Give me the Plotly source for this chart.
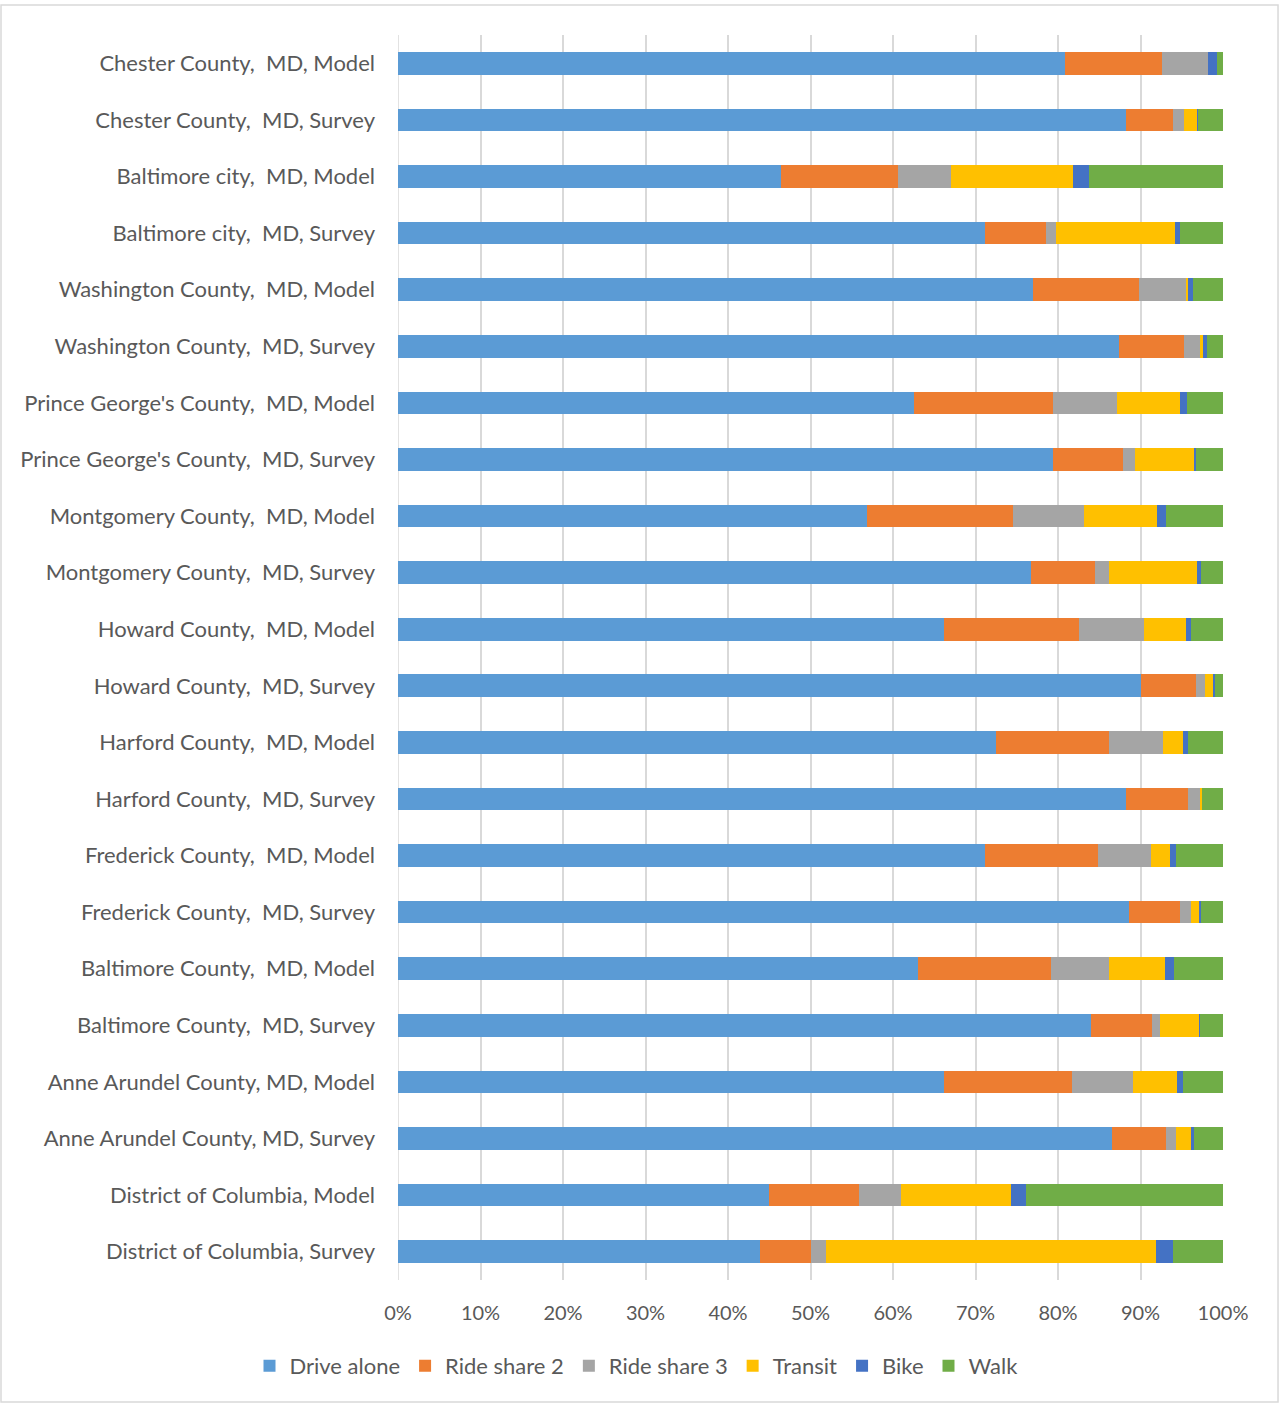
import plotly.graph_objects as go

# Commute mode shares (%) by jurisdiction, model vs. survey, listed top to bottom
categories = [
    "Chester County,\u00a0 MD, Model",
    "Chester County,\u00a0 MD, Survey",
    "Baltimore city,\u00a0 MD, Model",
    "Baltimore city,\u00a0 MD, Survey",
    "Washington County,\u00a0 MD, Model",
    "Washington County,\u00a0 MD, Survey",
    "Prince George's County,\u00a0 MD, Model",
    "Prince George's County,\u00a0 MD, Survey",
    "Montgomery County,\u00a0 MD, Model",
    "Montgomery County,\u00a0 MD, Survey",
    "Howard County,\u00a0 MD, Model",
    "Howard County,\u00a0 MD, Survey",
    "Harford County,\u00a0 MD, Model",
    "Harford County,\u00a0 MD, Survey",
    "Frederick County,\u00a0 MD, Model",
    "Frederick County,\u00a0 MD, Survey",
    "Baltimore County,\u00a0 MD, Model",
    "Baltimore County,\u00a0 MD, Survey",
    "Anne Arundel County, MD, Model",
    "Anne Arundel County, MD, Survey",
    "District of Columbia, Model",
    "District of Columbia, Survey",
]

drive_alone = [80.9, 88.2, 46.4, 71.1, 77.0, 87.4, 62.5, 79.4, 56.8, 76.7, 66.2,
               90.1, 72.5, 88.3, 71.2, 88.6, 63.0, 84.0, 66.2, 86.5, 45.0, 43.9]
ride_share_2 = [11.7, 5.7, 14.2, 7.5, 12.8, 7.9, 16.9, 8.5, 17.8, 7.8, 16.3,
                6.6, 13.7, 7.5, 13.6, 6.2, 16.1, 7.4, 15.5, 6.6, 10.9, 6.1]
ride_share_3 = [5.6, 1.4, 6.4, 1.2, 5.8, 1.9, 7.8, 1.4, 8.5, 1.7, 7.9,
                1.1, 6.5, 1.5, 6.5, 1.3, 7.1, 1.0, 7.4, 1.2, 5.1, 1.9]
transit = [0.0, 1.6, 14.8, 14.4, 0.1, 0.4, 7.6, 7.2, 8.9, 10.6, 5.1,
           1.0, 2.5, 0.2, 2.3, 1.0, 6.8, 4.7, 5.3, 1.8, 13.3, 40.0]
bike = [1.1, 0.1, 1.9, 0.6, 0.7, 0.4, 0.8, 0.2, 1.1, 0.5, 0.6,
        0.2, 0.6, 0.0, 0.7, 0.2, 1.0, 0.1, 0.7, 0.4, 1.8, 2.0]
walk = [0.7, 3.0, 16.3, 5.2, 3.6, 2.0, 4.4, 3.3, 6.9, 2.7, 3.9,
        1.0, 4.2, 2.5, 5.7, 2.7, 6.0, 2.8, 4.9, 3.5, 23.9, 6.1]

series = [
    ("Drive alone", drive_alone, "#5B9BD5"),
    ("Ride share 2", ride_share_2, "#ED7D31"),
    ("Ride share 3", ride_share_3, "#A5A5A5"),
    ("Transit", transit, "#FFC000"),
    ("Bike", bike, "#4472C4"),
    ("Walk", walk, "#70AD47"),
]

x_ticks = [0, 10, 20, 30, 40, 50, 60, 70, 80, 90, 100]

FONT = "Lato, 'Open Sans', sans-serif"
TEXT = "#595959"

fig = go.Figure()
for name, vals, color in series:
    fig.add_trace(go.Bar(
        name=name, y=categories, x=vals, orientation="h",
        marker=dict(color=color, line=dict(width=0)),
    ))

fig.update_layout(
    barmode="stack",
    barnorm="percent",
    bargap=0.6,
    width=1280, height=1404,
    margin=dict(l=398, r=57, t=35, b=124),
    paper_bgcolor="white", plot_bgcolor="white",
    font=dict(family=FONT, size=22, color=TEXT),
    showlegend=True,
    legend=dict(
        orientation="h", x=-0.18, xanchor="left", y=-0.069, yanchor="middle",
        font=dict(size=22, color=TEXT), traceorder="normal",
        itemwidth=30, bgcolor="rgba(0,0,0,0)",
    ),
    xaxis=dict(
        range=[0, 100], tickvals=x_ticks, ticktext=[f"{v}%" for v in x_ticks],
        tickfont=dict(size=20),
        showgrid=True, gridcolor="#D9D9D9", gridwidth=1.5,
        zeroline=False, showline=False, ticks="", ticklabelstandoff=19,
        fixedrange=True,
    ),
    yaxis=dict(
        autorange="reversed", showgrid=False, zeroline=False, showline=False,
        ticks="", ticklabelstandoff=22, tickfont=dict(size=22),
    ),
    shapes=[
        dict(type="line", xref="x", yref="paper", x0=0, x1=0, y0=0, y1=1,
             line=dict(color="#D9D9D9", width=1.5), layer="below"),
        dict(type="rect", xref="paper", yref="paper",
             x0=-0.4812, x1=1.0667, y0=-0.0979, y1=1.0241,
             line=dict(color="#D9D9D9", width=1.5), fillcolor="rgba(0,0,0,0)"),
    ],
)

fig.write_html("out.html")
